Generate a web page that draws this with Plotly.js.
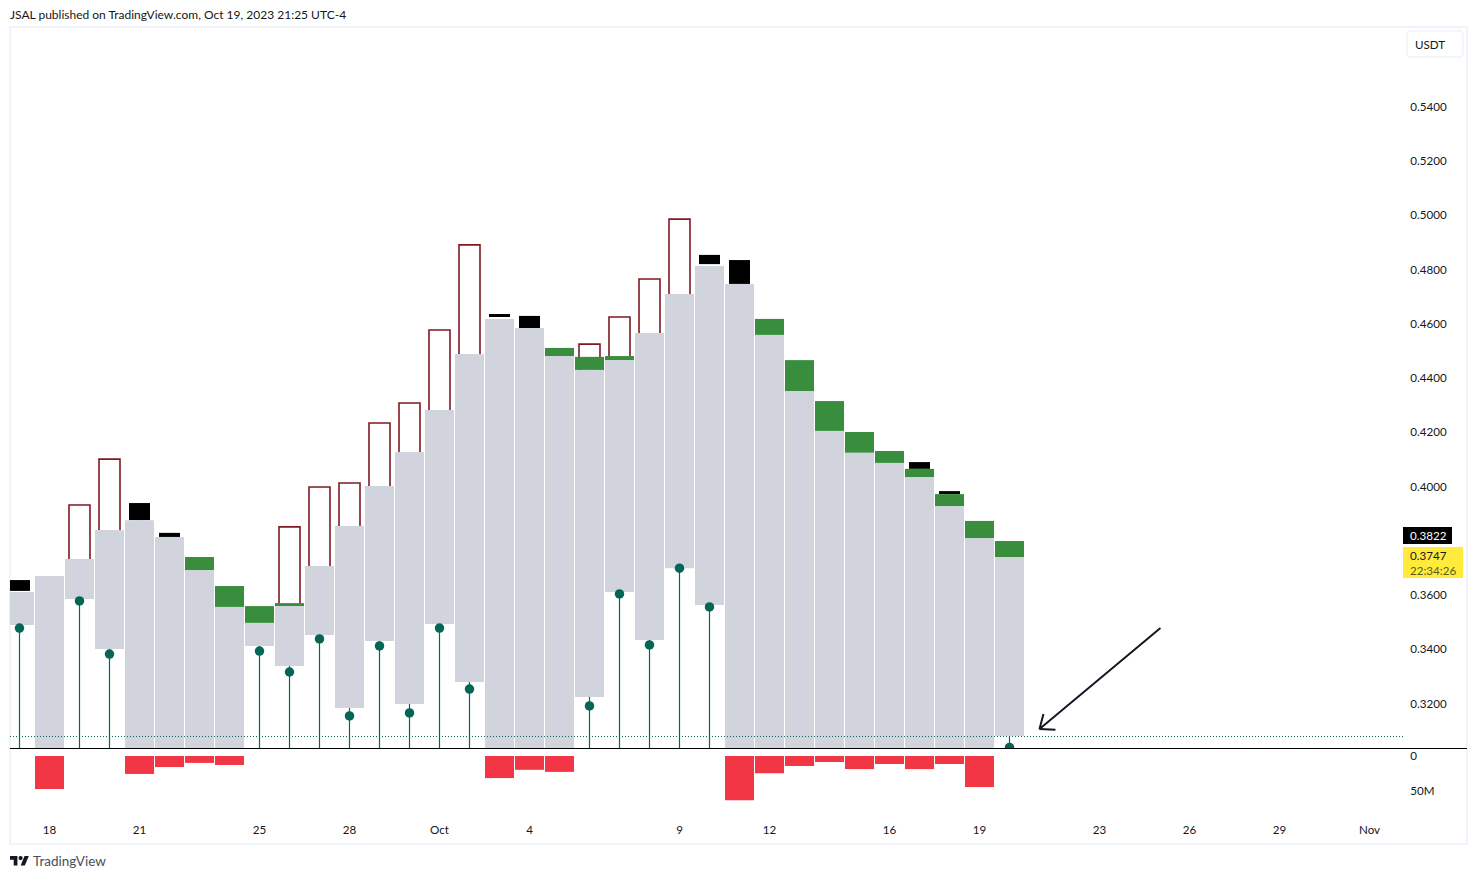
<!DOCTYPE html>
<html><head><meta charset="utf-8">
<script src="https://cdn.plot.ly/plotly-3.0.1.min.js"></script>
<style>html,body{margin:0;padding:0;background:#fff}#c{width:1477px;height:879px}</style>
</head><body><div id="c"></div>
<script>
const days = ["2023-09-17","2023-09-18","2023-09-19","2023-09-20","2023-09-21","2023-09-22","2023-09-23","2023-09-24","2023-09-25","2023-09-26","2023-09-27","2023-09-28","2023-09-29","2023-09-30","2023-10-01","2023-10-02","2023-10-03","2023-10-04","2023-10-05","2023-10-06","2023-10-07","2023-10-08","2023-10-09","2023-10-10","2023-10-11","2023-10-12","2023-10-13","2023-10-14","2023-10-15","2023-10-16","2023-10-17","2023-10-18","2023-10-19","2023-10-20"];
const boxTop = [0.3611,0.3670,0.3733,0.3840,0.3876,0.3814,0.3692,0.3556,0.3497,0.3559,0.3707,0.3854,0.4002,0.4127,0.4282,0.4489,0.4618,0.4584,0.4481,0.4430,0.4466,0.4566,0.4710,0.4813,0.4747,0.4559,0.4352,0.4205,0.4124,0.4087,0.4035,0.3928,0.3810,0.3740];
const boxBottom = [0.3489,0.30,0.3585,0.3401,0.30,0.30,0.30,0.30,0.3412,0.3338,0.3452,0.3183,0.3430,0.3198,0.3493,0.3279,0.30,0.30,0.30,0.3224,0.3611,0.3434,0.3699,0.3563,0.30,0.30,0.30,0.30,0.30,0.30,0.30,0.30,0.30,0.3080];
const dotPrice = [0.3478,null,0.3578,0.3382,null,null,null,null,0.3393,0.3316,0.3438,0.3154,0.3412,0.3165,0.3478,0.3253,null,null,null,0.3191,0.3604,0.3416,0.3699,0.3556,null,null,null,null,null,null,null,null,null,0.3038];
const blackTop = [0.3655,null,null,null,0.3939,0.3829,null,null,null,null,null,null,null,null,null,null,0.4636,0.4629,null,null,null,null,null,0.4854,0.4835,null,null,null,null,null,0.4090,0.3983,null,null];
const blackBottom = [0.3615,null,null,null,0.3876,0.3814,null,null,null,null,null,null,null,null,null,null,0.4625,0.4584,null,null,null,null,null,0.4820,0.4747,null,null,null,null,null,0.4065,0.3972,null,null];
const greenTop = [null,null,null,null,null,null,0.3740,0.3633,0.3559,0.3570,null,null,null,null,null,null,null,null,0.4511,0.4478,0.4481,null,null,null,null,0.4618,0.4466,0.4315,0.4201,0.4131,0.4065,0.3972,0.3873,0.3799];
const outlineTop = [null,null,0.3932,0.4101,null,null,null,null,null,0.3851,0.3998,0.4013,0.4234,0.4308,0.4577,0.4891,null,null,null,0.4525,0.4625,0.4765,0.4986,null,null,null,null,null,null,null,null,null,null,null];
const sellVolume = [null,47.8e6,null,null,26e6,16e6,10e6,13e6,null,null,null,null,null,null,null,null,32e6,20e6,23e6,null,null,null,null,null,64e6,25e6,14.5e6,8.7e6,19e6,11.6e6,19e6,11.6e6,45e6,null];
const priceTicks = [0.32,0.34,0.36,0.40,0.42,0.44,0.46,0.48,0.50,0.52,0.54];
const priceTickText = ["0.3200","0.3400","0.3600","0.4000","0.4200","0.4400","0.4600","0.4800","0.5000","0.5200","0.5400"];
const volumeTicks = [0,50e6];
const volumeTickText = ["0","50M"];
const dateTicks = ["2023-09-18","2023-09-21","2023-09-25","2023-09-28","2023-10-01","2023-10-04","2023-10-09","2023-10-12","2023-10-16","2023-10-19","2023-10-23","2023-10-26","2023-10-29","2023-11-01"];
const dateTickText = ["18","21","25","28","Oct","4","9","12","16","19","23","26","29","Nov"];
const dottedLevel = 0.3078;
const arrowX = ["2023-10-25 00:45","2023-10-21 00:00","2023-10-21 03:10",null,"2023-10-21 00:00","2023-10-21 12:45"];
const arrowY = [0.3478,0.3106,0.3161,null,0.3106,0.3103];

const PT=27, PB=815, SPLIT=748, PL=10, PR=1403;
const DAY=864e5, FONT='Lato, "Open Sans", sans-serif', INK='#131722';
const px=x=>(x-PL)/(PR-PL), py=y=>(PB-y)/(PB-PT);
const wide=DAY*29/30, narrow=DAY*21/30;
const sub=(a,b)=>a.map((v,i)=>v==null||b[i]==null?null:v-b[i]);
const t0=Date.UTC(2023,8,17);
const xr=[new Date(t0-DAY*9.5/30).toISOString(),new Date(t0+DAY*1383.5/30).toISOString()];
const under=boxTop.map(v=>v-0.002);

const stemX=[],stemY=[];
days.forEach((d,i)=>{ if(dotPrice[i]!=null){stemX.push(d,d,null);stemY.push(0.30,boxBottom[i],null);} });

const traces=[
 {type:'bar',x:days,base:under,y:sub(outlineTop,under),width:narrow,marker:{color:'#ffffff',line:{color:'#801922',width:1.6}}},
 {type:'bar',x:days,base:blackBottom,y:sub(blackTop,blackBottom),width:narrow,marker:{color:'#000000',line:{width:0}}},
 {type:'bar',x:days,base:boxTop,y:sub(greenTop,boxTop),width:wide,marker:{color:'#388e3c',line:{width:0}}},
 {type:'bar',x:days,base:boxBottom,y:sub(boxTop,boxBottom),width:wide,marker:{color:'#d1d4dc',line:{width:0}}},
 {type:'scatter',mode:'lines',x:[xr[0],xr[1]],y:[dottedLevel,dottedLevel],line:{color:'#056656',width:1,dash:'1px 2px'}},
 {type:'scatter',mode:'lines',x:stemX,y:stemY,connectgaps:false,line:{color:'#00695c',width:1.2}},
 {type:'scatter',mode:'markers',x:days,y:dotPrice,marker:{color:'#056656',size:9.5}},
 {type:'scatter',mode:'lines',x:arrowX,y:arrowY,connectgaps:false,line:{color:INK,width:2}},
 {type:'bar',x:days,y:sellVolume,yaxis:'y2',width:wide,marker:{color:'#f23645',line:{width:0}}}
];

const txt=(text,x,y,o={})=>Object.assign({text,xref:'paper',yref:'paper',x:px(x),y:py(y),xanchor:'left',yanchor:'middle',xshift:-3,showarrow:false,align:'left',font:{family:FONT,size:12,color:INK}},o);
const logoU=(u,v)=>[10+u*0.53,856+(v-4)*0.53];
const logoPath=pts=>'M'+pts.map(p=>{const [a,b]=logoU(p[0],p[1]);return px(a)+','+py(b);}).join('L')+'Z';
const [cx,cy]=logoU(20,8);
const rectPx=(x0,x1,y0,y1,color)=>({type:'rect',xref:'paper',yref:'paper',x0:px(x0),x1:px(x1),y0:py(y1),y1:py(y0),fillcolor:color,line:{width:0},layer:'above'});
const tickFont={family:FONT,size:11.6,color:INK};

const layout={
 width:1477,height:879,autosize:false,paper_bgcolor:'#fff',plot_bgcolor:'#fff',showlegend:false,
 margin:{l:PL,r:1477-PR,t:PT,b:879-PB,pad:0},barmode:'overlay',hovermode:false,
 xaxis:{type:'date',range:xr,anchor:'y2',showgrid:false,zeroline:false,showline:false,tickmode:'array',tickvals:dateTicks,ticktext:dateTickText,ticks:'outside',ticklen:4,tickcolor:'rgba(0,0,0,0)',tickfont:tickFont,fixedrange:true},
 yaxis:{domain:[py(SPLIT),1],range:[0.40-261.5/2712,0.40+459.5/2712],side:'right',showgrid:false,zeroline:false,showline:false,tickmode:'array',tickvals:priceTicks,ticktext:priceTickText,ticks:'outside',ticklen:4,tickcolor:'rgba(0,0,0,0)',tickfont:tickFont,fixedrange:true},
 yaxis2:{domain:[0,py(SPLIT)],range:[85.5e6,-11.6e6],side:'right',showgrid:false,zeroline:false,showline:false,tickmode:'array',tickvals:volumeTicks,ticktext:volumeTickText,ticks:'outside',ticklen:4,tickcolor:'rgba(0,0,0,0)',tickfont:tickFont,fixedrange:true},
 shapes:[
  {type:'rect',xref:'paper',yref:'paper',x0:px(10),x1:px(1467),y0:py(844),y1:py(27),line:{color:'#f0f3fa',width:2},layer:'below'},
  {type:'path',xref:'paper',yref:'paper',layer:'below',line:{color:'#f0f3fa',width:1.5},path:
    `M${px(1411)},${py(31)}L${px(1459)},${py(31)}Q${px(1463)},${py(31)} ${px(1463)},${py(35)}L${px(1463)},${py(53)}Q${px(1463)},${py(57)} ${px(1459)},${py(57)}L${px(1411)},${py(57)}Q${px(1407)},${py(57)} ${px(1407)},${py(53)}L${px(1407)},${py(35)}Q${px(1407)},${py(31)} ${px(1411)},${py(31)}Z`},
  {type:'line',xref:'paper',yref:'paper',x0:px(10),x1:px(1467),y0:py(748.5),y1:py(748.5),line:{color:'#000000',width:1},layer:'above'},
  rectPx(1403,1452,527,544,'#000000'),
  rectPx(1403,1463,547,578,'#ffeb3b'),
  {type:'path',xref:'paper',yref:'paper',path:logoPath([[0,4],[14,4],[14,22],[7,22],[7,11],[0,11]]),fillcolor:INK,line:{width:0}},
  {type:'path',xref:'paper',yref:'paper',path:logoPath([[27.5,4],[35.5,4],[28,22],[20,22]]),fillcolor:INK,line:{width:0}},
  {type:'circle',xref:'paper',yref:'paper',x0:px(cx-2.1),x1:px(cx+2.1),y0:py(cy+2.1),y1:py(cy-2.1),fillcolor:INK,line:{width:0}}
 ],
 annotations:[
  txt('JSAL published on TradingView.com, Oct 19, 2023 21:25 UTC-4',10,14,{xshift:-2,font:{family:FONT,size:12,color:INK}}),
  txt('USDT',1416,44.5,{font:tickFont}),
  txt('TradingView',33,861,{xshift:-2,font:{family:FONT,size:13.5,color:'#4a4e5a'}}),
  txt('0.3822',1411,535.5,{font:{family:FONT,size:11.6,color:'#ffffff'}}),
  txt('0.3747',1411,555.5,{font:tickFont}),
  txt('22:34:26',1411,570,{font:{family:FONT,size:11.6,color:'#5d5a1a'}})
 ]
};
Plotly.newPlot('c',traces,layout,{displayModeBar:false,staticPlot:true});
</script></body></html>
